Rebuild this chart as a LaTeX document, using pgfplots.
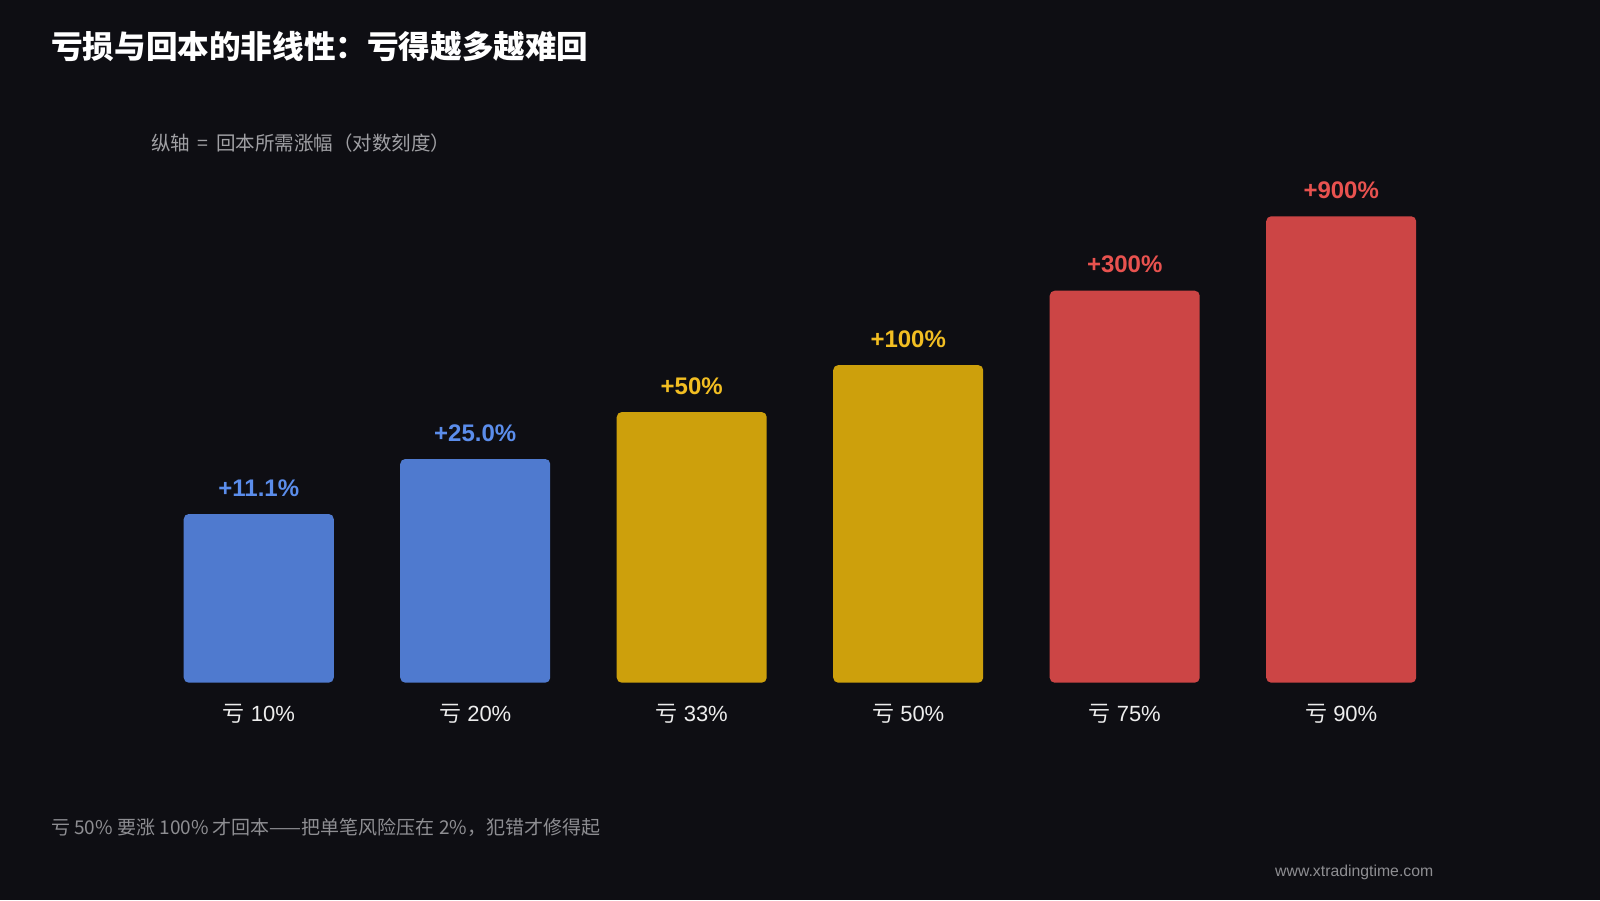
\documentclass[border=0pt]{standalone}
\usepackage{pgfplots}
\pgfplotsset{compat=1.18}
\usepackage{fontspec}
\setmainfont{Liberation Sans}
\newfontfamily\cjk{Noto Sans CJK SC}

\definecolor{bg}{HTML}{0E0E13}
\definecolor{barblue}{HTML}{4F7ACF}
\definecolor{bargold}{HTML}{CDA00C}
\definecolor{barred}{HTML}{CC4545}
\definecolor{labblue}{HTML}{5B8DEB}
\definecolor{labgold}{HTML}{F2BE22}
\definecolor{labred}{HTML}{E8524F}
\definecolor{subgray}{HTML}{A0A0A4}
\definecolor{footgray}{HTML}{8E8E92}

\begin{document}
\begin{tikzpicture}[x=1pt,y=1pt]
\useasboundingbox (0,0) rectangle (1600,900);
\fill[bg] (0,0) rectangle (1600,900);

\node[anchor=west, text=white, font=\cjk\bfseries\fontsize{31.6}{38}\selectfont, inner sep=0]
  at (51,853) {亏损与回本的非线性：亏得越多越难回};
\node[anchor=west, text=subgray, font=\cjk\fontsize{19.5}{23}\selectfont, inner sep=0]
  at (151,757) {纵轴\ \,=\ \,回本所需涨幅（对数刻度）};

\begin{axis}[
  at={(150.5pt,217.3pt)}, anchor=south west,
  scale only axis, width=1299pt, height=530pt,
  ymode=log, ymin=0.92, ymax=2300, log origin=infty,
  xmin=-0.5, xmax=5.5,
  ybar, bar width=150pt, bar shift=0pt,
  clip=false,
  axis line style={draw=none},
  major tick length=0pt,
  ytick=\empty,
  xtick={0,1,2,3,4,5},
  xticklabels={{\cjk 亏} 10\%,{\cjk 亏} 20\%,{\cjk 亏} 33\%,{\cjk 亏} 50\%,{\cjk 亏} 75\%,{\cjk 亏} 90\%},
  xticklabel style={anchor=base, yshift=-39pt, text=white!93!black, font=\fontsize{22}{26}\selectfont},
  point meta=explicit symbolic,
  nodes near coords,
  every node near coord/.style={anchor=base, yshift=18pt, inner sep=0pt, font=\bfseries\fontsize{24}{28}\selectfont},
]
\addplot[fill=barblue, draw=none, rounded corners=5pt,
  every node near coord/.append style={text=labblue}]
  coordinates {(0,11.1) [+11.1\%] (1,25) [+25.0\%]};
\addplot[fill=bargold, draw=none, rounded corners=5pt,
  every node near coord/.append style={text=labgold}]
  coordinates {(2,50) [+50\%] (3,100) [+100\%]};
\addplot[fill=barred, draw=none, rounded corners=5pt,
  every node near coord/.append style={text=labred}]
  coordinates {(4,300) [+300\%] (5,900) [+900\%]};
\end{axis}

\node[anchor=west, text=footgray, font=\cjk\fontsize{19}{22}\selectfont, inner sep=0]
  at (51,73) {亏 50\% 要涨 100\% 才回本——把单笔风险压在 2\%，犯错才修得起};
\node[anchor=west, text=footgray, font=\fontsize{15.8}{18}\selectfont, inner sep=0]
  at (1275,28) {www.xtradingtime.com};
\end{tikzpicture}
\end{document}
